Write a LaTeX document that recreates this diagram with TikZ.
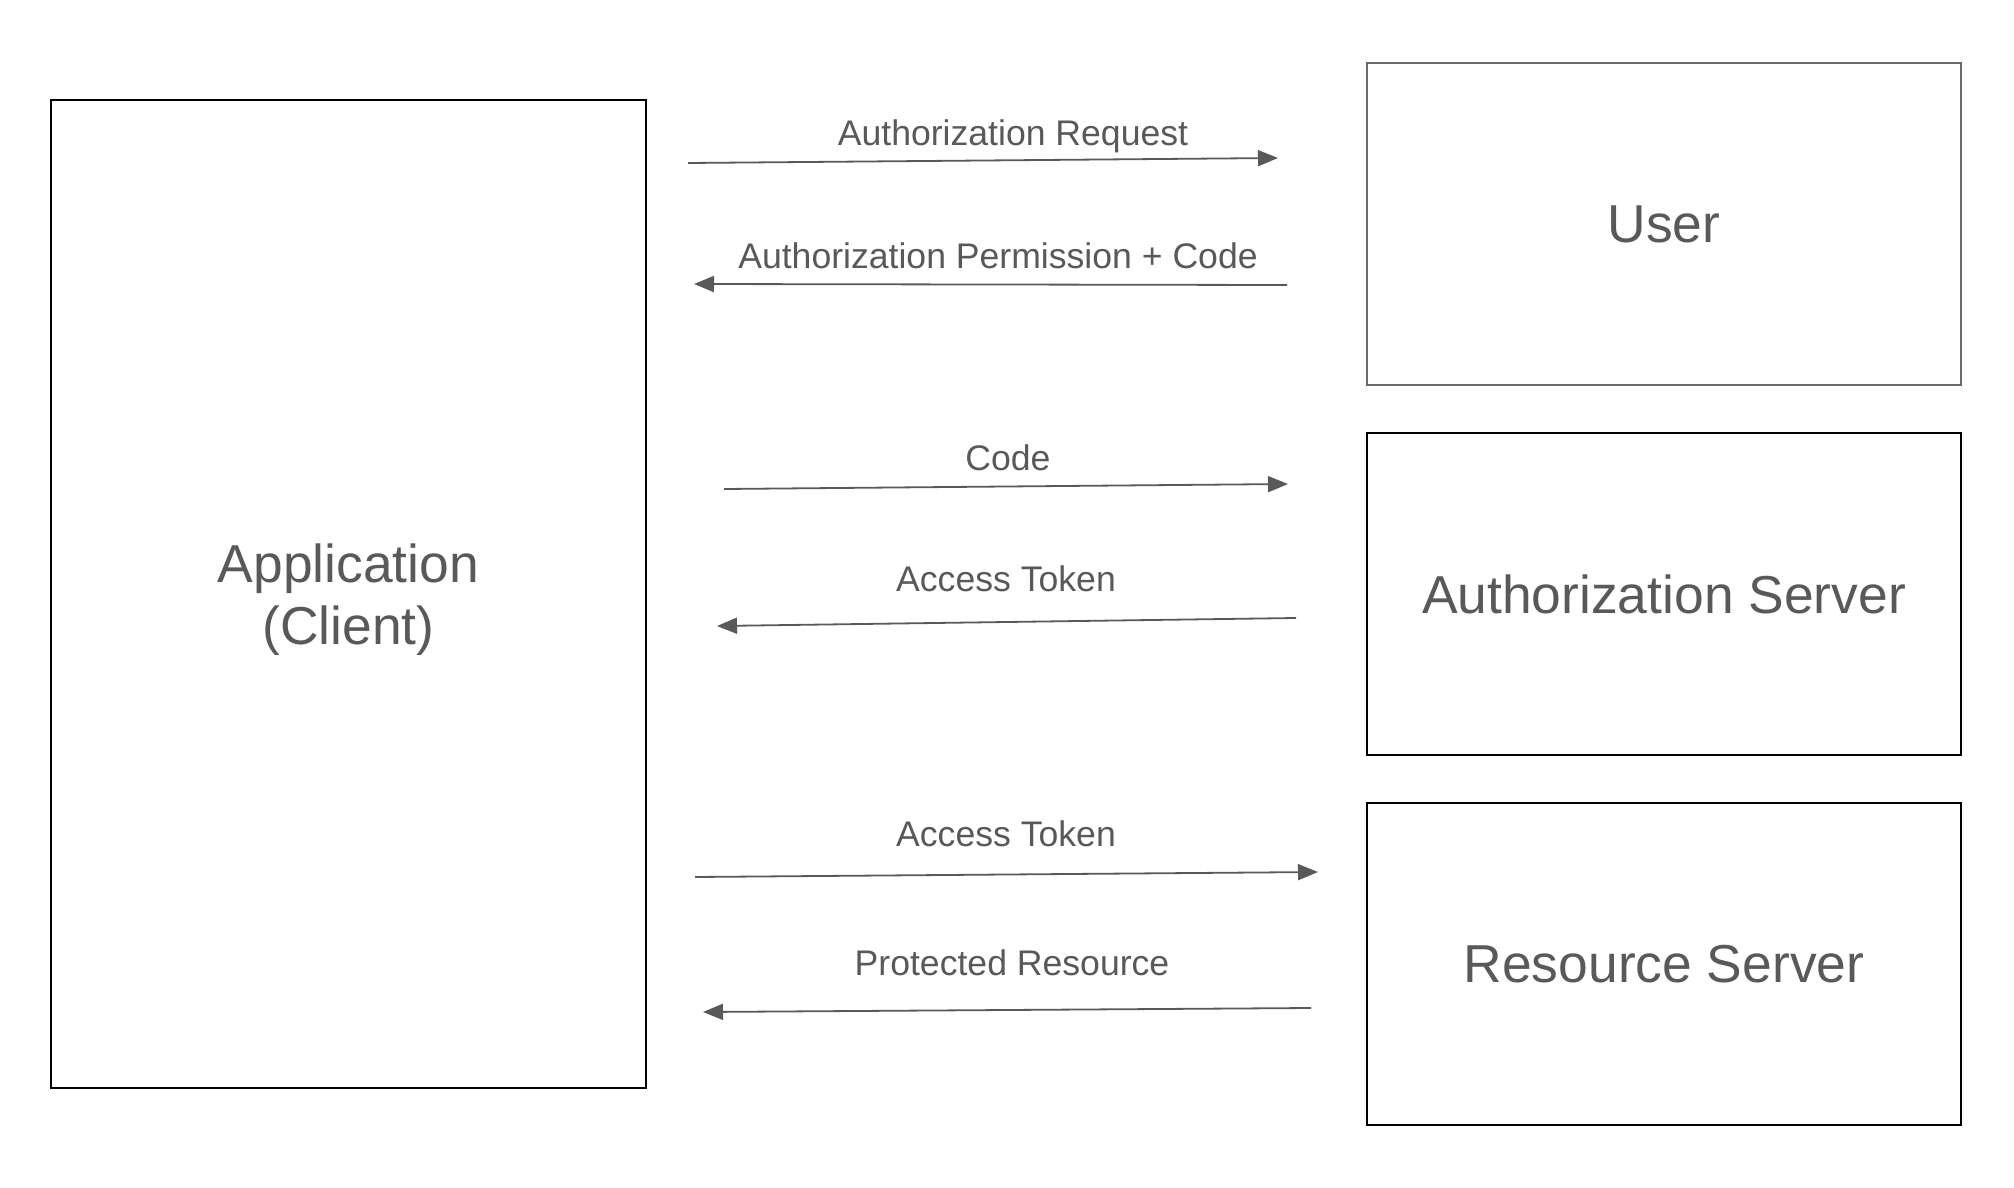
\documentclass[tikz,border=0pt]{standalone}
\usepackage{fontspec}
\setmainfont{Liberation Sans}
\usetikzlibrary{arrows.meta,positioning}
\definecolor{txtgray}{HTML}{595959}
\definecolor{boxgray}{HTML}{6B6B6B}

\begin{document}
\begin{tikzpicture}[
    x=0.5pt,y=-0.5pt,
    party/.style={rectangle,draw=black,line width=0.9pt,minimum width=297pt,minimum height=161pt,text=txtgray,font=\fontsize{26.7}{31}\selectfont,align=center,inner sep=0pt},
    msg/.style={anchor=base,text=txtgray,font=\fontsize{17.8}{21}\selectfont,inner sep=0pt},
    flow/.style={draw=txtgray,line width=0.9pt,-{Triangle[length=10pt,width=8pt]}},
    >=Latex]
    \useasboundingbox (0,0) rectangle (2014,1188);
    % parties
    \node[party,minimum width=297.5pt,minimum height=494pt] (app) at (348.5,594) {};
    \node[party,draw=none,minimum width=0pt,minimum height=0pt] (applbl) at ([yshift=-3pt]app.center) {Application\\(Client)};
    \node[party,draw=boxgray,line width=1.2pt] (user) at (1664,224) {User};
    \node[party] (authsrv) at (1664,594) {Authorization Server};
    \node[party] (ressrv) at (1664,964) {Resource Server};
    % message end points
    \coordinate (reqA) at (688,163);  \coordinate (reqB) at (1278,158);
    \coordinate (permA) at (1287,285); \coordinate (permB) at (694,284);
    \coordinate (codeA) at (724,489); \coordinate (codeB) at (1288,484);
    \coordinate (tokA) at (1296,618); \coordinate (tokB) at (717,626);
    \coordinate (useA) at (695,877);  \coordinate (useB) at (1318,872);
    \coordinate (resA) at (1311,1008); \coordinate (resB) at (703,1012);
    % messages
    \draw[flow] (reqA) -- (reqB);
    \draw[flow] (permA) -- (permB);
    \draw[flow] (codeA) -- (codeB);
    \draw[flow] (tokA) -- (tokB);
    \draw[flow] (useA) -- (useB);
    \draw[flow] (resA) -- (resB);
    \node[msg] (reqlbl) at (1013,146) {Authorization Request};
    \node[msg] (permlbl) at (998,268) {Authorization Permission + Code};
    \node[msg] (codelbl) at (1008,470) {Code};
    \node[msg] (toklbl) at (1006,591) {Access Token};
    \node[msg] (uselbl) at (1006,846) {Access Token};
    \node[msg] (reslbl) at (1012,975) {Protected Resource};
  \end{tikzpicture}
\end{document}
